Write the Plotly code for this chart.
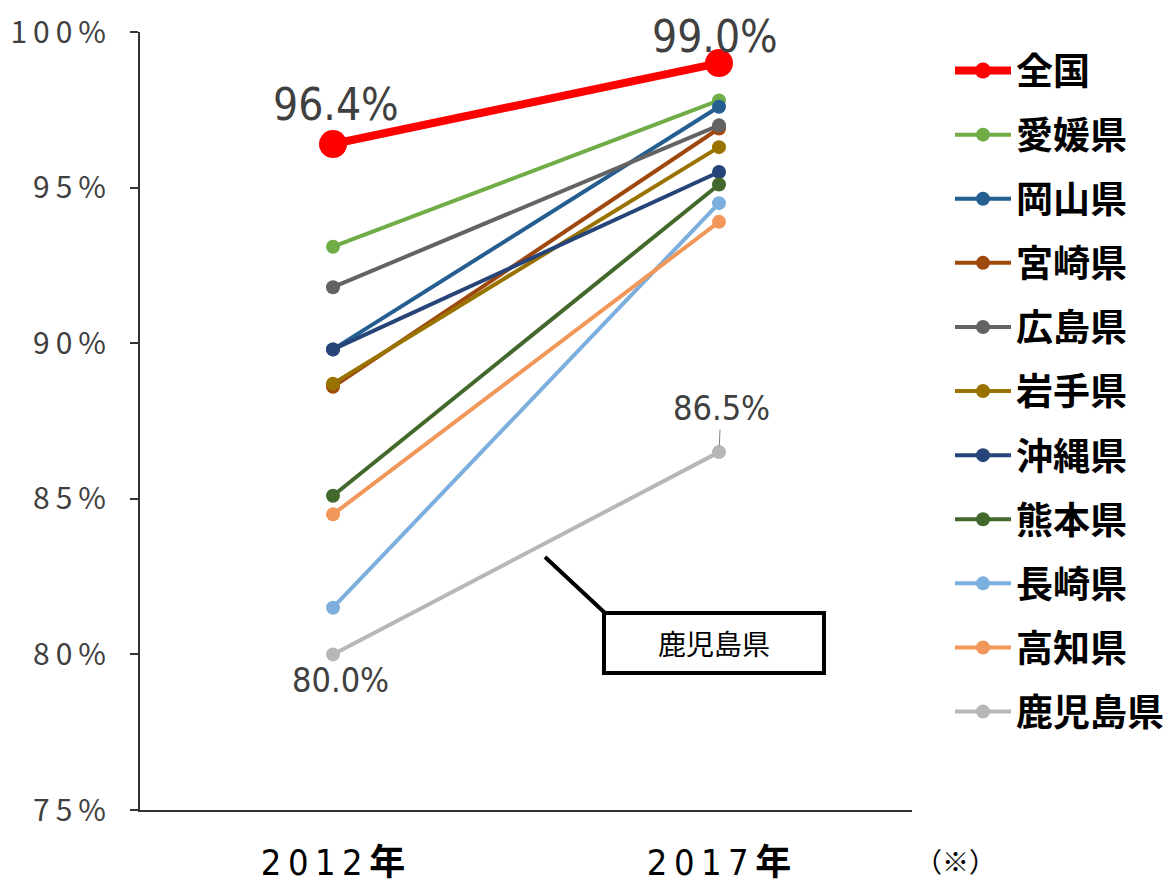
import plotly.graph_objects as go

years = ["2012年", "2017年"]
series_names = ["全国", "愛媛県", "岡山県", "宮崎県", "広島県", "岩手県",
                "沖縄県", "熊本県", "長崎県", "高知県", "鹿児島県"]
values_2012 = [96.4, 93.1, 89.8, 88.6, 91.8, 88.7, 89.8, 85.1, 81.5, 84.5, 80.0]
values_2017 = [99.0, 97.8, 97.6, 96.9, 97.0, 96.3, 95.5, 95.1, 94.5, 93.9, 86.5]
colors = ["#FF0000", "#70AD47", "#255E91", "#9E480E", "#636363", "#997300",
          "#264478", "#43682B", "#7CAFDD", "#F1975A", "#B7B7B7"]
y_ticks = [75, 80, 85, 90, 95, 100]

THIN = "\u2009"
xpos = [0, 1]
fig = go.Figure()

# draw prefectures first, national average last (on top)
order = list(range(1, len(series_names))) + [0]
for i in order:
    nat = i == 0
    fig.add_trace(go.Scatter(
        x=xpos, y=[values_2012[i], values_2017[i]],
        mode="lines+markers", name=series_names[i],
        legendrank=i + 1, legendgroup=series_names[i],
        line=dict(color=colors[i], width=8 if nat else 4),
        marker=dict(color=colors[i], size=28 if nat else 14),
        showlegend=True,
    ))


def spaced(s):
    return THIN.join(s)


lab_font = dict(family="DejaVu Sans Condensed, Noto Sans CJK JP", color="#404040")
# data labels
fig.add_annotation(x=0, y=values_2012[0], text=f"{values_2012[0]:.1f}%",
                   showarrow=False, yshift=40, xshift=3,
                   font=dict(size=44, **lab_font))
fig.add_annotation(x=1, y=values_2017[0], text=f"{values_2017[0]:.1f}%",
                   showarrow=False, yshift=27, xshift=-4,
                   font=dict(size=44, **lab_font))
fig.add_annotation(x=1, y=values_2017[-1], text=f"{values_2017[-1]:.1f}%",
                   showarrow=True, arrowhead=0, arrowwidth=1, arrowcolor="#808080",
                   ax=2, ay=-44, standoff=6,
                   font=dict(size=34, **lab_font))
fig.add_annotation(x=0, y=values_2012[-1], text=f"{values_2012[-1]:.1f}%",
                   showarrow=False, yshift=-26, xshift=7,
                   font=dict(size=34, **lab_font))

# callout box
fig.add_shape(type="line", xref="paper", yref="paper",
              x0=(545 - 140) / 772, y0=(810 - 557) / 778,
              x1=(605 - 140) / 772, y1=(810 - 613) / 778,
              line=dict(color="black", width=4))
fig.add_annotation(xref="paper", yref="paper",
                   x=(714 - 140) / 772, y=(810 - 643) / 778,
                   xanchor="center", yanchor="middle",
                   text="鹿児島県", showarrow=False,
                   width=212, height=52, borderpad=2,
                   bordercolor="black", borderwidth=4, bgcolor="white",
                   font=dict(family="Noto Sans CJK JP", size=28, color="black"))

fig.add_annotation(xref="paper", yref="paper",
                   x=(955 - 140) / 772, y=(810 - 860) / 778,
                   xanchor="center", yanchor="middle",
                   text="（※）", showarrow=False,
                   font=dict(family="Noto Sans CJK JP", size=27, color="black"))

fig.update_layout(
    width=1169, height=884,
    margin=dict(l=140, r=257, t=32, b=74, autoexpand=False),
    plot_bgcolor="white", paper_bgcolor="white",
    showlegend=True,
    legend=dict(xref="container", yref="container",
                x=950 / 1169, xanchor="left", y=1 - 40 / 884, yanchor="top",
                maxheight=860,
                font=dict(family="Noto Sans CJK JP", size=37, color="black", weight="bold"),
                tracegroupgap=13, itemwidth=56, bgcolor="rgba(0,0,0,0)"),
)
fig.update_xaxes(
    range=[-0.5, 1.5], tickvals=xpos,
    ticktext=[spaced(y[:-1]) + THIN + "<b>" + y[-1] + "</b>" for y in years],
    tickfont=dict(family="DejaVu Sans Condensed, Noto Sans CJK JP", size=36, color="black"),
    showgrid=False, zeroline=False, showline=True, linecolor="#333333", linewidth=2,
    ticks="", ticklabelstandoff=20, automargin=False,
)
fig.update_yaxes(
    range=[75, 100], tickvals=y_ticks, ticktext=[spaced(f"{t}%") for t in y_ticks],
    tickfont=dict(family="Noto Sans CJK JP", size=30, color="#404040"),
    showgrid=False, zeroline=False, showline=True, linecolor="#333333", linewidth=2,
    ticks="outside", ticklen=8, tickcolor="#333333", tickwidth=1.5, ticklabelstandoff=18,
    automargin=False,
)

fig.write_html("out.html")
